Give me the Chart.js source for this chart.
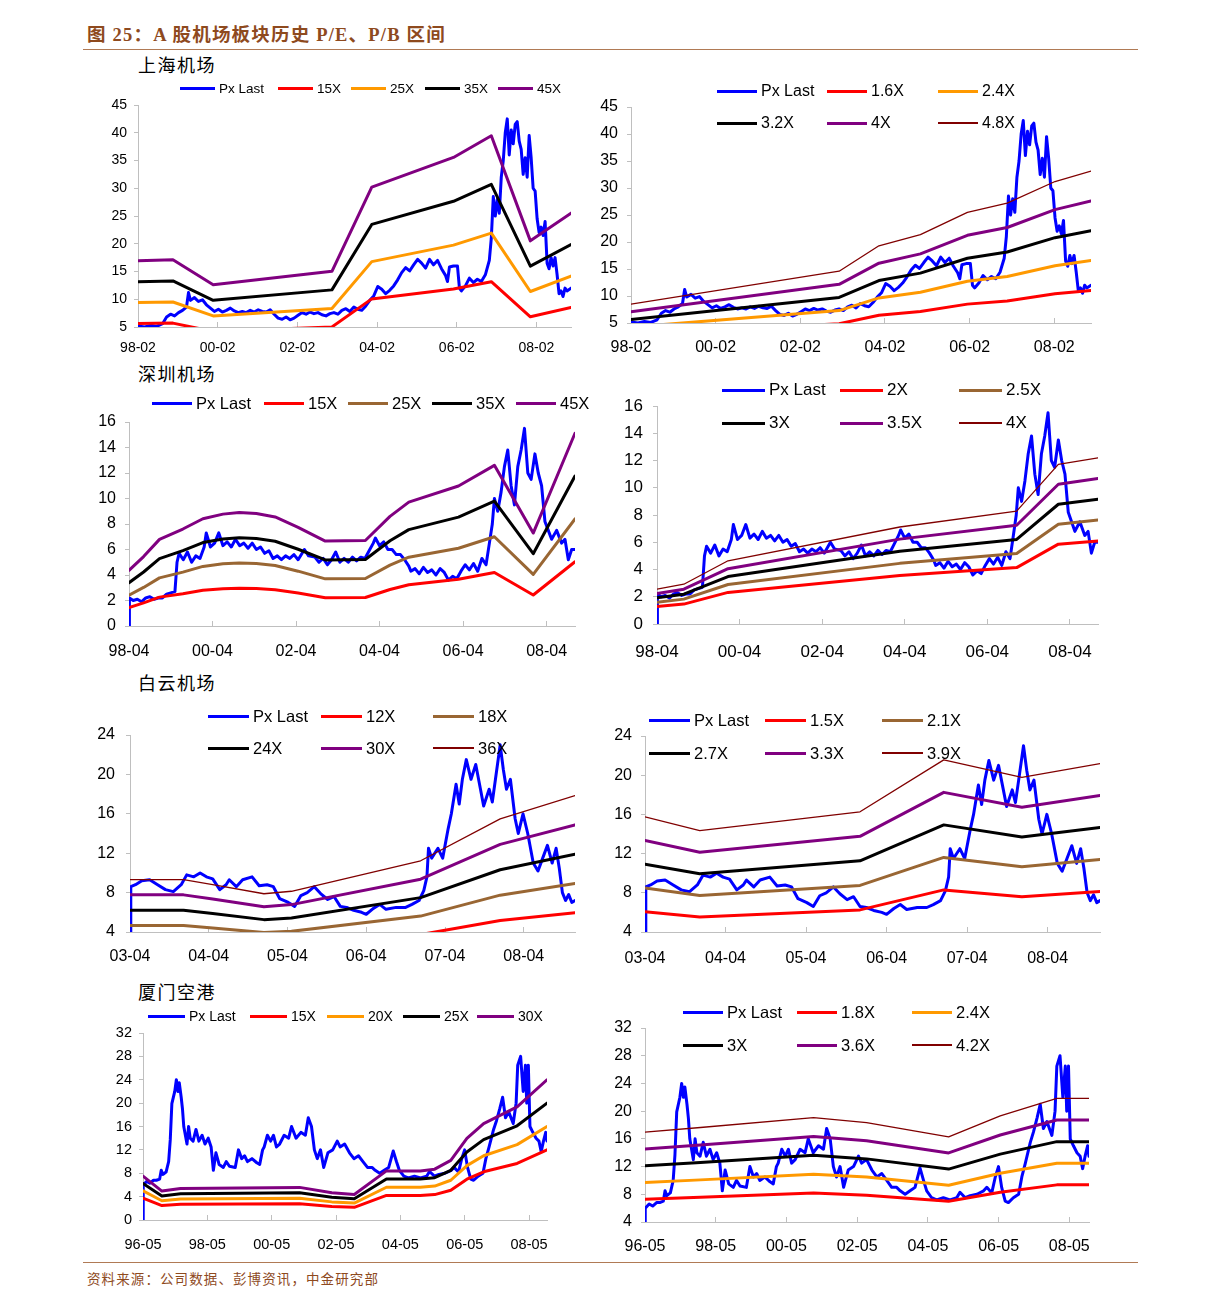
<!DOCTYPE html>
<html><head><meta charset="utf-8">
<script src="https://cdn.jsdelivr.net/npm/chart.js@4.4.1/dist/chart.umd.min.js"></script>
<style>
html,body{margin:0;padding:0;background:#fff}
body{width:1224px;height:1307px;position:relative;overflow:hidden;font-family:"Liberation Sans",Arial,sans-serif;color:#000}
.title{position:absolute;left:87px;top:23px;font-family:"Liberation Serif","Noto Sans CJK SC",serif;font-weight:bold;font-size:18.5px;letter-spacing:1.2px;color:#8E4A1E;white-space:nowrap;line-height:24px}
.rule{position:absolute;left:83px;width:1055px;height:1px;background:#B07A55}
.foot{position:absolute;left:87px;top:1269px;font-family:"Noto Sans CJK SC",sans-serif;font-size:13.5px;letter-spacing:1.1px;color:#8E4A1E;white-space:nowrap;line-height:18px}
.sub{position:absolute;left:138px;font-family:"Noto Sans CJK SC",sans-serif;font-size:18px;letter-spacing:1.5px;white-space:nowrap;line-height:22px}
.lg{position:absolute;display:flex;align-items:center;white-space:nowrap}
.lg i{display:inline-block}
.lg span{margin-left:4px}
</style></head><body>
<div class="title">图 25：A 股机场板块历史 P/E、P/B 区间</div>
<div class="rule" style="top:49px"></div>
<div class="sub" style="top:53px">上海机场</div>
<div class="sub" style="top:362px">深圳机场</div>
<div class="sub" style="top:671px">白云机场</div>
<div class="sub" style="top:980px">厦门空港</div>
<div class="rule" style="top:1262px"></div>
<div class="foot">资料来源：公司数据、彭博资讯，中金研究部</div>
<script>
// ---------------- DATA ----------------
// Shanghai Airport (上海机场) price
const SH_T=[1998.083,1998.25,1998.4,1998.55,1998.7,1998.8,1998.9,
1999.0,1999.1,1999.2,1999.3,1999.35,1999.4,1999.5,1999.6,1999.7,1999.8,1999.9,
2000.0,2000.1,2000.2,2000.3,2000.4,2000.5,2000.6,2000.7,2000.8,2000.9,
2001.0,2001.1,2001.2,2001.3,2001.4,2001.5,2001.6,2001.7,2001.8,2001.9,
2002.0,2002.1,2002.2,2002.3,2002.4,2002.5,2002.6,2002.7,2002.8,2002.9,
2003.0,2003.1,2003.2,2003.3,2003.4,2003.5,2003.6,2003.7,2003.8,2003.9,
2004.0,2004.1,2004.2,2004.3,2004.4,2004.5,2004.6,2004.7,2004.8,2004.9,
2005.0,2005.1,2005.2,2005.3,2005.4,2005.5,2005.6,2005.7,2005.8,2005.85,2005.9,
2006.0,2006.1,2006.15,2006.2,2006.3,2006.4,2006.5,2006.6,2006.7,2006.8,2006.9,2006.95,
2007.0,2007.05,2007.1,2007.15,2007.2,2007.25,2007.3,2007.35,2007.4,2007.45,2007.5,2007.55,2007.6,2007.65,2007.7,2007.75,2007.8,2007.85,2007.9,2007.95,
2008.0,2008.05,2008.1,2008.15,2008.2,2008.25,2008.3,2008.35,2008.4,2008.45,2008.5,2008.55,2008.6,2008.65,2008.7,2008.75,2008.8,2008.85,2008.95];
const SH_PX=[5.2,5.0,5.3,5.1,5.6,6.8,7.3,
7.0,7.6,8.0,8.6,11.2,9.8,10.3,9.6,9.9,9.0,8.4,
7.8,8.2,7.7,8.0,8.4,7.9,7.6,7.8,7.6,8.0,
7.7,8.1,7.8,7.7,8.1,7.3,6.6,6.4,6.8,6.3,
6.6,7.1,7.6,7.3,7.7,7.4,7.6,7.2,7.0,7.4,
7.6,7.3,8.0,8.3,7.8,8.6,8.2,8.0,8.8,9.8,
10.6,12.3,11.8,11.0,11.6,12.4,13.5,14.8,15.7,15.1,
16.2,17.2,16.5,15.6,17.2,16.2,17.0,15.5,14.3,13.2,15.8,
16.0,16.0,12.0,11.5,12.4,13.8,13.0,13.6,13.2,14.4,17.0,21.0,
28.5,25.0,28.0,25.5,32.0,35.0,40.0,42.5,36.0,40.5,38.0,41.5,42.0,38.5,37.0,32.5,35.5,32.0,39.5,35.5,
30.0,29.5,24.5,22.0,23.0,21.5,24.0,16.5,15.5,17.5,16.0,17.5,14.5,11.0,11.5,10.5,12.0,11.5,12.0];
const SH_EPS_T=[1998.083,1998.96,1999.97,2002.95,2003.95,2006.0,2006.95,2007.93,2008.95];
const SH_EPS=[0.376,0.380,0.280,0.334,0.671,0.790,0.877,0.456,0.567];
const SH_BPS_T=[1998.083,2003.0,2003.94,2004.92,2006.03,2006.97,2008.1,2008.95];
const SH_BPS=[1.77,3.04,4.02,4.45,5.31,5.67,6.5,6.9];
const SH_PE_MULT=[15,25,35,45];
const SH_PB_MULT=[1.6,2.4,3.2,4,4.8];

// Shenzhen Airport (深圳机场) price
const SZ_T=[1998.25,1998.26,1998.35,1998.45,1998.55,1998.65,1998.75,1998.85,1998.95,
1999.05,1999.15,1999.25,1999.35,1999.4,1999.45,1999.55,1999.65,1999.75,1999.85,1999.95,
2000.05,2000.1,2000.2,2000.3,2000.4,2000.5,2000.6,2000.7,2000.8,2000.9,
2001.0,2001.1,2001.2,2001.3,2001.4,2001.5,2001.6,2001.7,2001.8,2001.9,
2002.0,2002.1,2002.2,2002.3,2002.45,2002.55,2002.7,2002.8,2002.9,
2003.0,2003.1,2003.2,2003.3,2003.4,2003.5,2003.6,2003.7,2003.8,2003.9,
2004.0,2004.1,2004.15,2004.25,2004.35,2004.45,2004.55,2004.65,2004.75,2004.85,2004.95,
2005.0,2005.1,2005.2,2005.3,2005.4,2005.5,2005.6,2005.7,2005.8,2005.9,
2006.0,2006.1,2006.2,2006.3,2006.4,2006.5,2006.6,2006.7,2006.8,2006.88,2006.95,
2007.0,2007.08,2007.16,2007.24,2007.32,2007.4,2007.48,2007.56,2007.64,2007.72,2007.8,2007.88,2007.97,
2008.05,2008.13,2008.21,2008.29,2008.37,2008.49,2008.61,2008.69,2008.77,2008.85,2008.93];
const SZ_PX=[0,2.2,2.0,2.1,1.9,2.2,2.3,2.1,2.2,
2.2,2.5,2.6,2.7,5.0,5.7,5.2,5.8,5.0,5.5,5.3,
6.2,7.3,6.2,6.5,7.3,6.3,6.6,6.2,6.8,6.3,
6.5,6.1,6.5,6.0,6.2,5.7,5.9,5.3,5.5,5.2,
5.5,5.3,5.6,5.2,6.0,5.5,5.4,5.0,5.3,
4.8,5.2,5.8,5.0,5.3,5.0,5.4,5.1,5.4,5.3,
5.9,6.5,6.9,6.3,6.6,6.0,6.0,5.6,5.6,5.2,4.7,
4.3,4.5,4.1,4.6,4.2,4.4,4.0,4.5,4.2,3.6,
3.9,3.7,4.3,4.8,4.4,4.9,4.3,5.3,4.8,6.5,8.0,
10.0,9.0,10.5,12.5,13.8,11.0,9.5,12.5,13.8,15.5,12.0,11.5,13.5,
12.0,11.0,8.2,7.5,6.8,7.5,6.5,6.8,5.2,6.0,6.0];
const SZ_EPS_T=[1998.25,1998.6,1998.98,1999.54,2000.02,2000.5,2000.89,2001.3,2001.75,2002.3,2002.95,2003.91,2004.5,2004.95,2006.14,2007.0,2007.93,2008.93];
const SZ_EPS=[0.097,0.121,0.151,0.169,0.187,0.195,0.198,0.196,0.190,0.172,0.148,0.149,0.191,0.216,0.244,0.280,0.162,0.336];
const SZ_BPS_T=[1998.25,1998.9,1999.97,2004.13,2006.96,2007.97,2008.93];
const SZ_BPS=[0.64,0.73,1.16,1.78,2.07,2.93,3.05];
const SZ_PE_MULT=[15,25,35,45];
const SZ_PB_MULT=[2,2.5,3,3.5,4];

// Baiyun Airport (白云机场) price
const BY_T=[2003.25,2003.26,2003.32,2003.4,2003.5,2003.6,2003.7,2003.8,2003.9,2003.97,
2004.06,2004.14,2004.22,2004.3,2004.39,2004.47,2004.51,2004.6,2004.68,2004.8,2004.89,2004.99,
2005.07,2005.15,2005.26,2005.34,2005.42,2005.5,2005.59,2005.67,2005.76,2005.84,2005.92,
2006.0,2006.09,2006.19,2006.25,2006.34,2006.42,2006.5,2006.63,2006.75,2006.83,2006.92,2006.98,
2007.02,2007.04,2007.08,2007.16,2007.22,2007.29,2007.33,2007.39,2007.43,2007.47,2007.52,2007.58,2007.64,2007.7,2007.74,2007.81,2007.85,2007.89,2007.95,2007.99,
2008.03,2008.08,2008.14,2008.18,2008.24,2008.3,2008.37,2008.43,2008.49,2008.55,2008.61,2008.66,2008.7,2008.74,2008.78,2008.82,2008.86,2008.9];
const BY_PX=[0,8.6,8.8,9.2,9.3,8.8,8.3,8.1,8.8,9.8,
9.6,10.0,9.6,9.4,8.3,8.8,9.3,8.6,9.3,9.6,8.7,8.8,
8.6,7.4,7.0,6.6,7.7,8.0,8.6,7.9,7.3,7.6,6.6,
6.5,6.2,6.0,5.8,6.4,6.8,6.3,6.5,6.5,6.8,7.2,8.2,
9.6,12.5,11.5,12.5,11.5,14.5,16.0,19.0,17.0,19.5,21.5,19.5,21.0,18.5,16.8,18.5,17.2,19.5,23.0,20.5,
18.5,19.5,15.5,14.0,16.0,14.0,11.0,10.2,11.5,12.8,11.0,12.5,10.5,8.0,7.2,7.8,7.0,7.2];
const BY_EPS_T=[2003.25,2003.93,2004.3,2004.95,2005.3,2006.94,2007.95,2008.9];
const BY_EPS=[0.259,0.259,0.245,0.219,0.226,0.312,0.430,0.496];
const BY_BPS_T=[2003.25,2003.93,2005.92,2006.96,2007.93,2008.9];
const BY_BPS=[4.04,3.68,4.17,5.53,5.07,5.43];
const BY_PE_MULT=[12,18,24,30,36];
const BY_PB_MULT=[1.5,2.1,2.7,3.3,3.9];

// Xiamen Airport (厦门空港) price
const XM_T=[1996.333,1996.34,1996.45,1996.55,1996.66,1996.75,1996.85,1996.9,1996.95,
1997.05,1997.13,1997.18,1997.23,1997.32,1997.37,1997.42,1997.46,1997.52,1997.56,1997.6,1997.7,1997.75,1997.8,1997.89,1997.98,
1998.07,1998.17,1998.26,1998.36,1998.45,1998.52,1998.6,1998.7,1998.83,1998.92,
1999.02,1999.2,1999.3,1999.4,1999.49,1999.58,1999.72,1999.87,1999.96,
2000.05,2000.1,2000.2,2000.3,2000.39,2000.48,2000.58,2000.72,2000.86,2000.95,
2001.09,2001.24,2001.38,2001.47,2001.57,2001.66,2001.75,2001.85,2001.95,
2002.08,2002.23,2002.37,2002.46,2002.6,2002.75,2002.89,
2003.03,2003.17,2003.31,2003.45,2003.55,2003.69,2003.83,2003.97,
2004.11,2004.21,2004.3,2004.44,2004.58,2004.77,2004.96,
2005.15,2005.24,2005.39,2005.53,2005.72,2005.91,
2006.0,2006.14,2006.24,2006.33,2006.42,2006.52,2006.61,2006.75,2006.9,2006.99,
2007.09,2007.23,2007.32,2007.42,2007.51,2007.6,2007.7,2007.84,2007.93,2007.98,
2008.07,2008.15,2008.22,2008.26,2008.31,2008.36,2008.45,2008.55,2008.64,2008.71,2008.78,2008.85,2008.89];
const XM_PX=[0,6.0,6.6,6.3,6.8,6.8,7.0,8.5,7.8,
8.2,10.0,13.7,19.9,22.0,24.0,22.0,23.5,21.0,19.0,16.0,13.0,16.0,14.0,13.5,15.5,
13.5,14.5,13.0,14.0,12.5,8.5,11.5,9.5,9.0,10.0,
9.2,9.0,12.0,10.5,11.0,10.0,10.5,9.8,9.5,
12.0,12.5,14.5,13.5,14.5,12.5,13.0,14.5,14.0,16.0,
14.0,15.0,14.5,17.5,16.0,12.0,10.5,12.0,9.0,
11.5,12.0,13.5,12.5,13.0,11.5,10.5,
11.0,10.0,9.0,9.0,8.5,8.0,8.5,9.0,
11.8,10.0,8.5,7.5,7.2,7.5,7.2,
7.5,8.3,7.5,7.8,8.0,8.5,
9.0,8.2,10.5,12.0,9.0,7.0,6.8,7.5,8.0,10.5,
12.5,15.5,17.0,19.0,21.0,17.5,18.5,16.5,20.0,26.5,
28.0,22.0,26.5,20.0,26.5,16.0,15.0,14.0,13.5,11.7,13.5,15.0,13.5];
const XM_EPS_T=[1996.333,1996.92,1997.5,2001.2,2002.2,2002.9,2003.9,2004.95,2005.4,2005.9,2006.4,2006.92,2007.96,2008.89];
const XM_EPS=[0.25,0.165,0.18,0.186,0.155,0.145,0.28,0.28,0.29,0.34,0.465,0.55,0.645,0.80];
const XM_BPS_T=[1996.333,1997.9,2001.1,2002.6,2004.92,2006.38,2007.98,2008.89];
const XM_BPS=[4.04,4.2,4.54,4.37,3.88,4.6,5.2,5.2];
const XM_PE_MULT=[15,20,25,30];
const XM_PB_MULT=[1.8,2.4,3,3.6,4.2];

// Axis tick values and labels
const TICKS_98_02=[1998.083,2000.083,2002.083,2004.083,2006.083,2008.083];
const LABELS_98_02=['98-02','00-02','02-02','04-02','06-02','08-02'];
const TICKS_98_04=[1998.25,2000.25,2002.25,2004.25,2006.25,2008.25];
const LABELS_98_04=['98-04','00-04','02-04','04-04','06-04','08-04'];
const TICKS_03_04=[2003.25,2004.25,2005.25,2006.25,2007.25,2008.25];
const LABELS_03_04=['03-04','04-04','05-04','06-04','07-04','08-04'];
const TICKS_96_05=[1996.333,1998.333,2000.333,2002.333,2004.333,2006.333,2008.333];
const LABELS_96_05=['96-05','98-05','00-05','02-05','04-05','06-05','08-05'];

// ---------------- STYLE / LAYOUT ----------------
const BLU='#0000FF',RED='#FF0000',ORG='#FF9900',BLK='#000000',PUR='#800080',BRN='#996633',DRD='#800000';
const FAM='"Liberation Sans", Arial, sans-serif';

const PANELS=[
 {l:138,t:105,r:571,b:327,xmax:2008.95,T:SH_T,P:SH_PX,BT:SH_EPS_T,B:SH_EPS,M:SH_PE_MULT,xt:TICKS_98_02,xl:LABELS_98_02,ymin:5,ymax:45,step:5,
  fs:14,xoff:21,ygap:11,colors:[RED,ORG,BLK,PUR],lg:{fs:13.5,line:35,rows:[88],cols:[180,278,351,425,498]}},
 {l:631,t:107,r:1091,b:323,xmax:2008.95,T:SH_T,P:SH_PX,BT:SH_BPS_T,B:SH_BPS,M:SH_PB_MULT,xt:TICKS_98_02,xl:LABELS_98_02,ymin:5,ymax:45,step:5,
  fs:16,xoff:25,ygap:13,colors:[RED,ORG,BLK,PUR,DRD],lg:{fs:16,line:40,rows:[91,123],cols:[717,827,938]}},
 {l:129,t:422,r:575,b:626,xmax:2008.93,T:SZ_T,P:SZ_PX,BT:SZ_EPS_T,B:SZ_EPS,M:SZ_PE_MULT,xt:TICKS_98_04,xl:LABELS_98_04,ymin:0,ymax:16,step:2,
  fs:16,xoff:26,ygap:13,colors:[RED,BRN,BLK,PUR],lg:{fs:16.5,line:40,rows:[403],cols:[152,264,348,432,516]}},
 {l:657,t:406,r:1098,b:624,xmax:2008.93,T:SZ_T,P:SZ_PX,BT:SZ_BPS_T,B:SZ_BPS,M:SZ_PB_MULT,xt:TICKS_98_04,xl:LABELS_98_04,ymin:0,ymax:16,step:2,
  fs:17,xoff:28,ygap:14,colors:[RED,BRN,BLK,PUR,DRD],lg:{fs:17,line:43,rows:[390,423],cols:[722,840,959]}},
 {l:130,t:735,r:575,b:932,xmax:2008.9,T:BY_T,P:BY_PX,BT:BY_EPS_T,B:BY_EPS,M:BY_PE_MULT,xt:TICKS_03_04,xl:LABELS_03_04,ymin:4,ymax:24,step:4,
  fs:16,xoff:25,ygap:15,colors:[RED,BRN,BLK,PUR,DRD],lg:{fs:16.5,line:41,rows:[716,748],cols:[208,321,433]}},
 {l:645,t:736,r:1100,b:932,xmax:2008.9,T:BY_T,P:BY_PX,BT:BY_BPS_T,B:BY_BPS,M:BY_PB_MULT,xt:TICKS_03_04,xl:LABELS_03_04,ymin:4,ymax:24,step:4,
  fs:16,xoff:27,ygap:13,colors:[RED,BRN,BLK,PUR,DRD],lg:{fs:16.5,line:41,rows:[720,753],cols:[649,765,882]}},
 {l:143,t:1033,r:547,b:1220,xmax:2008.89,T:XM_T,P:XM_PX,BT:XM_EPS_T,B:XM_EPS,M:XM_PE_MULT,xt:TICKS_96_05,xl:LABELS_96_05,ymin:0,ymax:32,step:4,
  fs:14.5,xoff:25,ygap:11,colors:[RED,ORG,BLK,PUR],lg:{fs:14,line:37,rows:[1016],cols:[148,250,327,403,477]}},
 {l:645,t:1028,r:1089,b:1222,xmax:2008.89,T:XM_T,P:XM_PX,BT:XM_BPS_T,B:XM_BPS,M:XM_PB_MULT,xt:TICKS_96_05,xl:LABELS_96_05,ymin:4,ymax:32,step:4,
  fs:16,xoff:25,ygap:13,colors:[RED,ORG,BLK,PUR,DRD],lg:{fs:16.5,line:40,rows:[1012,1045],cols:[683,797,912]}}
];

function fmtMult(m){return m+'X';}

function makePanel(c){
  const padL=60,padT=12,padR=14,padB=44;
  const W=c.r-c.l+padL+padR, H=c.b-c.t+padT+padB;
  const wrap=document.createElement('div');
  wrap.style.cssText='position:absolute;left:'+(c.l-padL)+'px;top:'+(c.t-padT)+'px;width:'+W+'px;height:'+H+'px';
  const cv=document.createElement('canvas');cv.width=W;cv.height=H;cv.style.width=W+'px';cv.style.height=H+'px';
  wrap.appendChild(cv);document.body.appendChild(wrap);

  const items=[{label:'Px Last',color:BLU,w:3}];
  const datasets=[{label:'Px Last',data:c.T.map((t,i)=>({x:t,y:c.P[i]})),borderColor:BLU,borderWidth:3,order:2}];
  c.M.forEach((m,k)=>{
    const col=c.colors[k], thin=(col===DRD);
    datasets.push({label:fmtMult(m),data:c.BT.map((t,i)=>({x:t,y:m*c.B[i]})),borderColor:col,borderWidth:thin?1.3:3,order:1});
    items.push({label:fmtMult(m),color:col,w:thin?1.3:3});
  });
  const tl=-5;
  new Chart(cv,{type:'line',data:{datasets},options:{
    responsive:false,animation:false,devicePixelRatio:1,
    layout:{padding:{top:padT,right:padR,left:0,bottom:0}},
    plugins:{legend:{display:false},tooltip:{enabled:false}},
    elements:{point:{radius:0},line:{tension:0,borderJoinStyle:'round',borderCapStyle:'round'}},
    scales:{
      x:{type:'linear',min:c.T[0],max:c.xmax,
        afterBuildTicks:s=>{s.ticks=c.xt.map(v=>({value:v}));},
        afterFit:s=>{s.height=padB;s.paddingLeft=0;s.paddingRight=0;},
        ticks:{autoSkip:false,maxRotation:0,color:'#000',font:{family:FAM,size:c.fs},padding:c.xoff-0.6*c.fs-tl,
          callback:(v,i)=>c.xl[i]},
        grid:{drawOnChartArea:false,drawTicks:true,tickLength:tl,color:'#BFBFBF',lineWidth:1},
        border:{display:true,color:'#BFBFBF',width:1}},
      y:{min:c.ymin,max:c.ymax,
        afterFit:s=>{s.width=padL;s.paddingTop=0;s.paddingBottom=0;},
        ticks:{stepSize:c.step,color:'#000',font:{family:FAM,size:c.fs},padding:c.ygap-4},
        grid:{drawOnChartArea:false,drawTicks:true,tickLength:4,color:'#BFBFBF',lineWidth:1},
        border:{display:true,color:'#BFBFBF',width:1}}
    }}});

  // legend (HTML)
  const L=c.lg;
  items.forEach((it,i)=>{
    let x,y;
    if(L.rows.length===1){x=L.cols[i];y=L.rows[0];}
    else{x=L.cols[i%3];y=L.rows[Math.floor(i/3)];}
    const d=document.createElement('div');d.className='lg';
    const h=Math.round(L.fs*1.3);
    d.style.cssText='left:'+x+'px;top:'+(y-h/2)+'px;height:'+h+'px;font-size:'+L.fs+'px';
    d.innerHTML='<i style="width:'+L.line+'px;height:'+it.w+'px;background:'+it.color+'"></i><span>'+it.label+'</span>';
    document.body.appendChild(d);
  });
}
PANELS.forEach(makePanel);
</script>
</body></html>
